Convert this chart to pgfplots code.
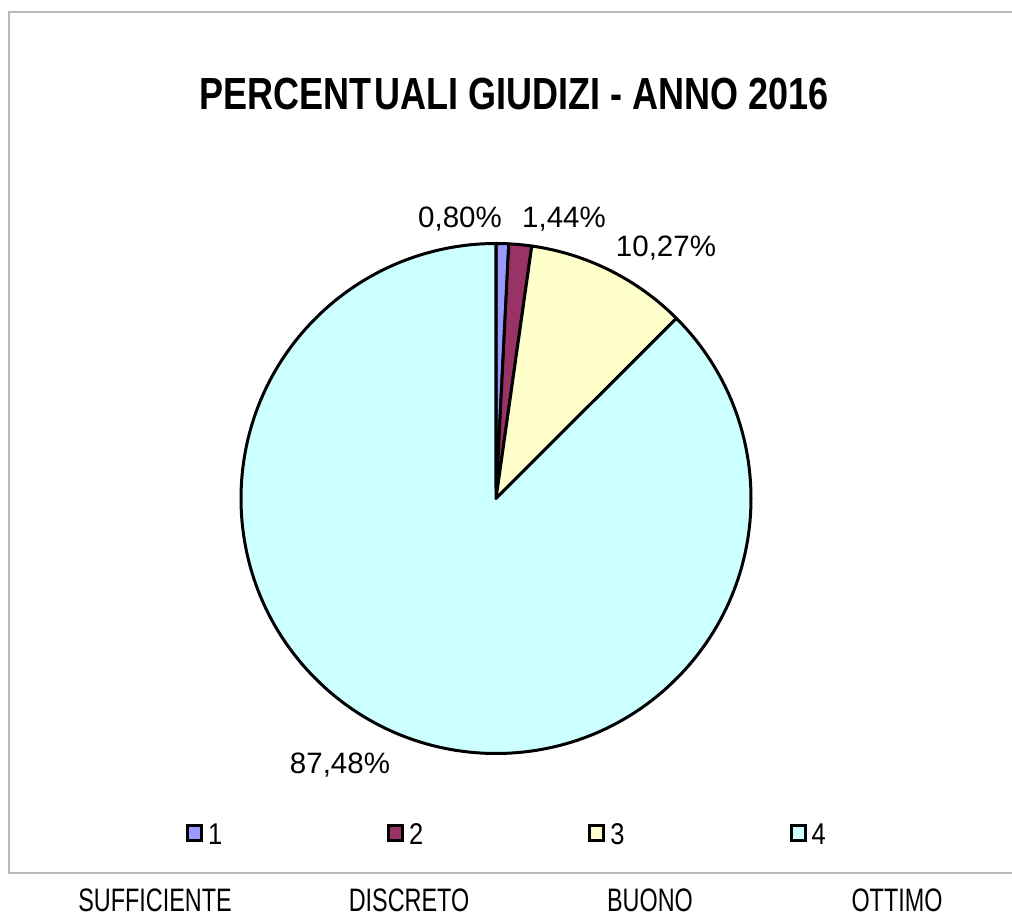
\documentclass[border=0pt]{standalone}
\usepackage{fontspec}
\setmainfont{Liberation Sans}
\newfontfamily\titlefont[FakeStretch=0.8]{Liberation Sans Bold}
\newfontfamily\narrowfont[FakeStretch=0.72]{Liberation Sans}
\newfontfamily\legfont[FakeStretch=0.85]{Liberation Sans}
\usepackage{pgfplots}
\usepackage{pgfplotstable}
\pgfplotsset{compat=1.18}

\definecolor{slice0}{HTML}{9999FF}
\definecolor{slice1}{HTML}{993366}
\definecolor{slice2}{HTML}{FFFFCC}
\definecolor{slice3}{HTML}{CCFFFF}
\definecolor{framegray}{HTML}{B8B8B8}

% share of each judgement, percent
\pgfplotstableread{
label value
1 0.80
2 1.44
3 10.27
4 87.48
}\giudizi

\begin{document}
\begin{tikzpicture}
\begin{axis}[
    x=1pt, y=1pt,
    xmin=0, xmax=1012, ymin=0, ymax=919,
    scale only axis, hide axis, clip=false,
    legend columns=4,
    legend cell align=left,
    legend image code/.code={\draw[#1, line width=3pt] (1.5pt,-5.5pt) rectangle (15.5pt,9.5pt);},
    legend style={
        at={(axis cs:186,73)}, anchor=south west,
        draw=none, fill=none, inner sep=0pt, outer sep=0pt,
        font=\legfont\fontsize{30}{32}\selectfont,
        nodes={inner sep=0pt},
        /tikz/every odd column/.style={column sep=5pt},
        /tikz/every even column/.style={column sep=165pt},
    },
]
% outer chart frame
\draw[framegray, line width=1.3pt] (axis cs:9,46) rectangle (axis cs:1040,907);

\pgfplotsextra{
  \pgfplotstablegetrowsof{\giudizi}
  \pgfmathtruncatemacro\nrows{\pgfplotsretval-1}
  \xdef\angstart{90}
  \foreach \i in {0,...,\nrows}{
    \pgfplotstablegetelem{\i}{value}\of\giudizi
    \pgfmathsetmacro\angend{\angstart-3.6*\pgfplotsretval}
    \filldraw[fill=slice\i, draw=black, line width=3pt, line join=round]
      (axis cs:496,420.5) -- ++(\angstart:255pt)
      arc[start angle=\angstart, end angle=\angend, radius=255pt] -- cycle;
    \xdef\angstart{\angend}
  }
}

\addlegendimage{fill=slice0, draw=black}
\addlegendentry{1}
\addlegendimage{fill=slice1, draw=black}
\addlegendentry{2}
\addlegendimage{fill=slice2, draw=black}
\addlegendentry{3}
\addlegendimage{fill=slice3, draw=black}
\addlegendentry{4}

\node[anchor=base, font=\titlefont\fontsize{45}{47}\selectfont] at (axis cs:514,809) {PERCENT\hspace{3pt}UALI GIUDIZI - ANNO 2016};

\node[anchor=base, font=\fontsize{29.5}{31}\selectfont] at (axis cs:460,691) {0,80\%};
\node[anchor=base, font=\fontsize{29.5}{31}\selectfont] at (axis cs:564,691) {1,44\%};
\node[anchor=base, font=\fontsize{29.5}{31}\selectfont] at (axis cs:666,662) {10,27\%};
\node[anchor=base, font=\fontsize{29.5}{31}\selectfont] at (axis cs:340,146) {87,48\%};

\node[anchor=base, inner sep=0pt, font=\narrowfont\fontsize{32.5}{34}\selectfont] at (axis cs:155,8) {SUFFICIENTE};
\node[anchor=base, inner sep=0pt, font=\narrowfont\fontsize{32.5}{34}\selectfont] at (axis cs:409,8) {DISCRETO};
\node[anchor=base, inner sep=0pt, font=\narrowfont\fontsize{32.5}{34}\selectfont] at (axis cs:650,8) {BUONO};
\node[anchor=base, inner sep=0pt, font=\narrowfont\fontsize{32.5}{34}\selectfont] at (axis cs:897,8) {OTTIMO};

\coordinate (BL) at (axis cs:0,0);
\coordinate (TR) at (axis cs:1012,919);
\end{axis}
\pgfresetboundingbox
\path[use as bounding box] (BL) rectangle (TR);
\end{tikzpicture}
\end{document}
